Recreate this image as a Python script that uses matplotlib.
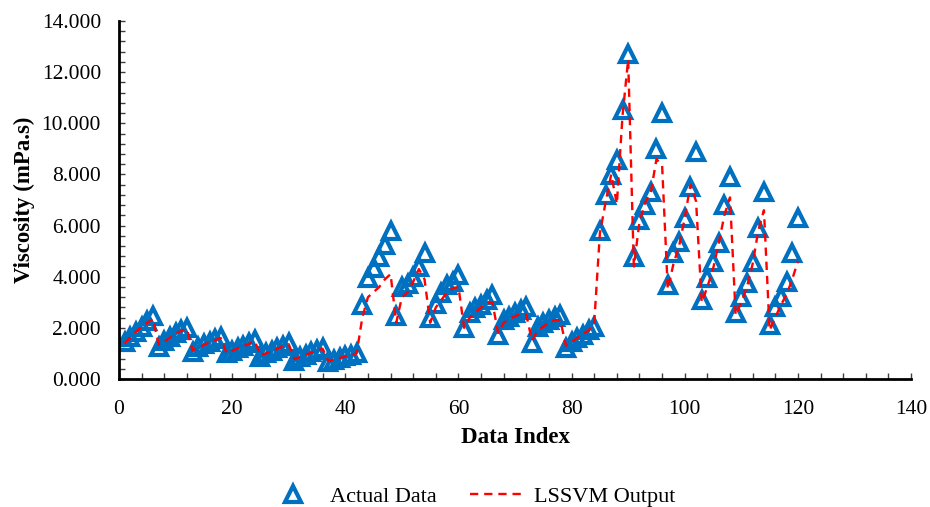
import numpy as np
import matplotlib.pyplot as plt
from matplotlib.ticker import MultipleLocator, FormatStrFormatter

# data (index 1..120)
actual = [
    1.45, 1.65, 1.85, 2.05, 2.25, 2.48,
    1.25, 1.50, 1.65, 1.80, 1.90, 2.00,
    1.07, 1.25, 1.35, 1.45, 1.55, 1.65,
    1.00, 1.10, 1.20, 1.30, 1.40, 1.52,
    0.87, 1.00, 1.10, 1.20, 1.30, 1.40,
    0.72, 0.85, 0.95, 1.05, 1.15, 1.20,
    0.65, 0.75, 0.82, 0.88, 0.95, 1.00,
    2.89, 3.94, 4.33, 4.78, 5.24, 5.80,
    2.46, 3.61, 3.70, 4.00, 4.39, 4.91,
    2.37, 2.95, 3.35, 3.67, 3.80, 4.05,
    1.98, 2.57, 2.76, 2.89, 3.09, 3.28,
    1.72, 2.31, 2.44, 2.57, 2.70, 2.83,
    1.40, 2.05, 2.18, 2.31, 2.44, 2.50,
    1.20, 1.46, 1.59, 1.72, 1.92, 2.05,
    5.80, 7.20, 7.98, 8.56, 10.52, 12.70,
    4.78, 6.22, 6.80, 7.30, 8.98, 10.39,
    3.68, 4.92, 5.37, 6.28, 7.52, 8.89,
    3.09, 3.94, 4.59, 5.31, 6.80, 7.91,
    2.57, 3.22, 3.74, 4.59, 5.89, 7.33,
    2.11, 2.83, 3.22, 3.81, 4.92, 6.30,
]
lssvm = [
    1.40, 1.62, 1.85, 2.05, 2.20, 2.35,
    1.35, 1.45, 1.62, 1.78, 1.88, 1.95,
    1.12, 1.22, 1.33, 1.44, 1.52, 1.60,
    1.02, 1.10, 1.20, 1.28, 1.38, 1.48,
    0.92, 1.00, 1.08, 1.18, 1.28, 1.36,
    0.78, 0.86, 0.95, 1.03, 1.12, 1.18,
    0.70, 0.76, 0.82, 0.88, 0.93, 1.00,
    2.40, 3.20, 3.40, 3.60, 3.90, 4.10,
    2.20, 3.20, 3.40, 3.80, 4.30, 3.90,
    2.20, 2.80, 3.10, 3.40, 3.55, 3.60,
    2.00, 2.40, 2.60, 2.80, 2.95, 3.00,
    1.80, 2.20, 2.35, 2.45, 2.55, 2.50,
    1.50, 1.90, 2.05, 2.20, 2.30, 2.30,
    1.30, 1.45, 1.60, 1.75, 1.90, 2.20,
    5.70, 6.90, 8.00, 6.85, 10.30, 12.50,
    4.40, 6.15, 6.90, 7.30, 8.60, 8.35,
    3.50, 4.50, 5.20, 6.30, 7.60, 6.95,
    3.00, 3.60, 4.30, 5.30, 6.40, 7.10,
    2.50, 3.00, 3.60, 4.50, 5.80, 6.60,
    1.90, 2.40, 2.90, 3.30, 3.90, 4.60,
]
idx = np.arange(1, len(actual) + 1)

plt.rcParams['font.family'] = ['Liberation Serif', 'DejaVu Serif']

fig = plt.figure(figsize=(9.3, 5.07), dpi=100)
ax = fig.add_axes([0.128, 0.2525, 0.8516, 0.706])

ax.plot(idx, actual, linestyle='none', marker='^', markersize=12,
        markerfacecolor='none', markeredgecolor='#0070C0', markeredgewidth=3.0,
        label='Actual Data', zorder=2)
ax.plot(idx, lssvm, color='#FF0000', linestyle=(0, (3.5, 2.5)), linewidth=1.7,
        label='LSSVM Output', zorder=3)

ax.set_xlim(0, 140)
ax.set_ylim(0, 14)
ax.xaxis.set_major_locator(MultipleLocator(20))
ax.xaxis.set_minor_locator(MultipleLocator(4))
ax.yaxis.set_major_locator(MultipleLocator(2))
ax.yaxis.set_minor_locator(MultipleLocator(0.4))
ax.yaxis.set_major_formatter(FormatStrFormatter('%.3f'))
ax.tick_params(which='both', direction='in', length=4, width=1, colors='#404040',
               labelcolor='black', labelsize=15.5)
ax.tick_params(axis='x', pad=15)
ax.tick_params(axis='y', pad=13)

for s in ['top', 'right']:
    ax.spines[s].set_visible(False)
for s in ['left', 'bottom']:
    ax.spines[s].set_linewidth(2)
    ax.spines[s].set_color('black')

ax.set_xlabel('Data Index', fontsize=16.5, fontweight='bold', labelpad=6)
ax.set_ylabel('Viscosity (mPa.s)', fontsize=16.5, fontweight='bold', labelpad=5)

fig.legend(loc='center', bbox_to_anchor=(0.506, 0.02), ncol=2, frameon=False,
           fontsize=16, columnspacing=1.5, handlelength=2.5, handletextpad=0.4)

fig.savefig('out.png', dpi=100)
